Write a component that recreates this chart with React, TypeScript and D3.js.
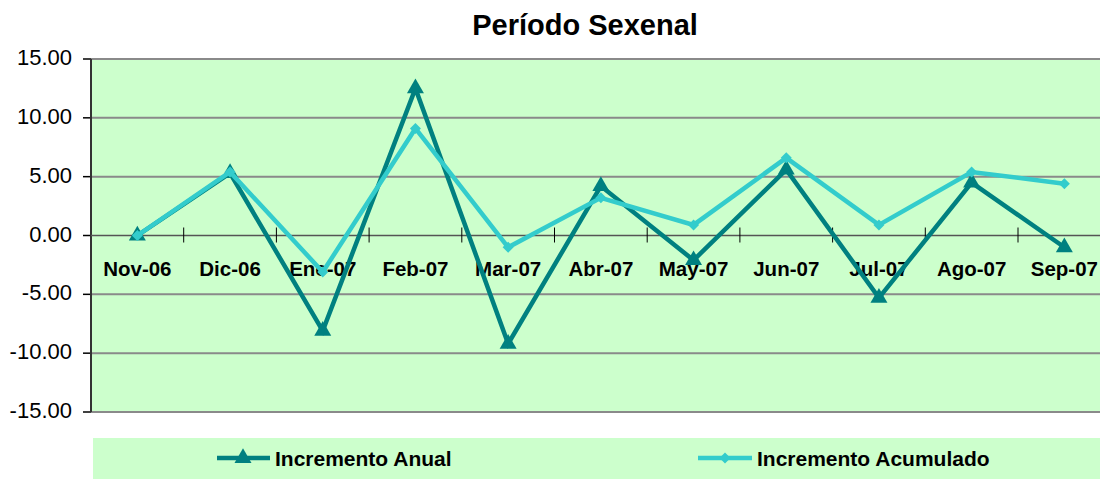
import React from "react";
import * as d3 from "d3";

const categories = ["Nov-06", "Dic-06", "Ene-07", "Feb-07", "Mar-07", "Abr-07", "May-07", "Jun-07", "Jul-07", "Ago-07", "Sep-07"];
const incrementoAnual = [0.0, 5.3, -8.1, 12.5, -9.2, 4.2, -2.1, 5.6, -5.3, 4.5, -1.0];
const incrementoAcumulado = [0.0, 5.4, -3.1, 9.1, -1.0, 3.2, 0.9, 6.6, 0.9, 5.4, 4.4];
const yTicks = [15, 10, 5, 0, -5, -10, -15];

const W = 1100;
const H = 479;
const plotLeft = 91;
const plotTop = 59;
const plotBottom = 412;
const band = 92.7;

const DARK = "#008080";
const LIGHT = "#33CCCC";
const BG = "#CCFFCC";
const FONT = "'Liberation Sans', Arial, sans-serif";

export default function App() {
  const x = d3
    .scaleBand<string>()
    .domain(categories)
    .range([plotLeft, plotLeft + band * categories.length])
    .padding(0);
  const cx = (c: string) => (x(c) as number) + x.bandwidth() / 2;
  const y = d3.scaleLinear().domain([-15, 15]).range([plotBottom, plotTop]);

  const line = d3
    .line<number>()
    .x((_, i) => cx(categories[i]))
    .y((d) => y(d));

  const tri = d3.symbol().type(d3.symbolTriangle).size(125)();
  const dia = (s: number) => `M0,${-s}L${s},0L0,${s}L${-s},0Z`;

  const boundaries = categories.map((c) => x(c) as number).slice(1);

  return (
    <svg
      width={W}
      height={H}
      style={{ position: "fixed", left: 0, top: 0, display: "block", background: "#fff" }}
      fontFamily={FONT}
    >
      <text x={585} y={35} textAnchor="middle" fontSize={29} fontWeight="bold" fill="#000">
        Período Sexenal
      </text>

      <rect x={plotLeft} y={plotTop} width={W - plotLeft} height={plotBottom - plotTop} fill={BG} />

      {yTicks.map((t) => (
        <g key={t}>
          {t !== 0 && (
            <line x1={plotLeft} x2={W} y1={y(t)} y2={y(t)} stroke="#8a8a8a" strokeWidth={2} />
          )}
          <line x1={plotLeft - 8} x2={plotLeft} y1={y(t)} y2={y(t)} stroke="#000" strokeWidth={1.5} />
          <text x={72} y={y(t) + 6} textAnchor="end" fontSize={22} fill="#000">
            {t.toFixed(2)}
          </text>
        </g>
      ))}

      <line x1={plotLeft} x2={plotLeft} y1={plotTop} y2={plotBottom} stroke="#333" strokeWidth={2} />
      <line x1={plotLeft} x2={W} y1={y(0)} y2={y(0)} stroke="#555" strokeWidth={1.5} />
      {boundaries.map((b, i) => (
        <line key={i} x1={b} x2={b} y1={y(0) - 8} y2={y(0) + 7} stroke="#000" strokeWidth={1} />
      ))}

      {categories.map((c) => (
        <text key={c} x={cx(c)} y={276} textAnchor="middle" fontSize={20.5} fontWeight="bold" fill="#000">
          {c}
        </text>
      ))}

      <path d={line(incrementoAnual) || ""} fill="none" stroke={DARK} strokeWidth={4.5} strokeLinejoin="miter" />
      {incrementoAnual.map((v, i) => (
        <path key={i} d={tri || ""} transform={`translate(${cx(categories[i])},${y(v)})`} fill={DARK} />
      ))}

      <path d={line(incrementoAcumulado) || ""} fill="none" stroke={LIGHT} strokeWidth={4.5} strokeLinejoin="miter" />
      {incrementoAcumulado.map((v, i) => (
        <path key={i} d={dia(5.5)} transform={`translate(${cx(categories[i])},${y(v)})`} fill={LIGHT} />
      ))}

      <rect x={93} y={438} width={W - 93} height={H - 438} fill={BG} />
      <line x1={217} x2={270} y1={458} y2={458} stroke={DARK} strokeWidth={4.5} />
      <path d={tri || ""} transform={`translate(243,458)`} fill={DARK} />
      <text x={275} y={466} fontSize={21} fontWeight="bold" fill="#000">
        Incremento Anual
      </text>
      <line x1={698} x2={752} y1={458} y2={458} stroke={LIGHT} strokeWidth={4.5} />
      <path d={dia(5.5)} transform={`translate(725,458)`} fill={LIGHT} />
      <text x={757} y={466} fontSize={21} fontWeight="bold" fill="#000">
        Incremento Acumulado
      </text>
    </svg>
  );
}
